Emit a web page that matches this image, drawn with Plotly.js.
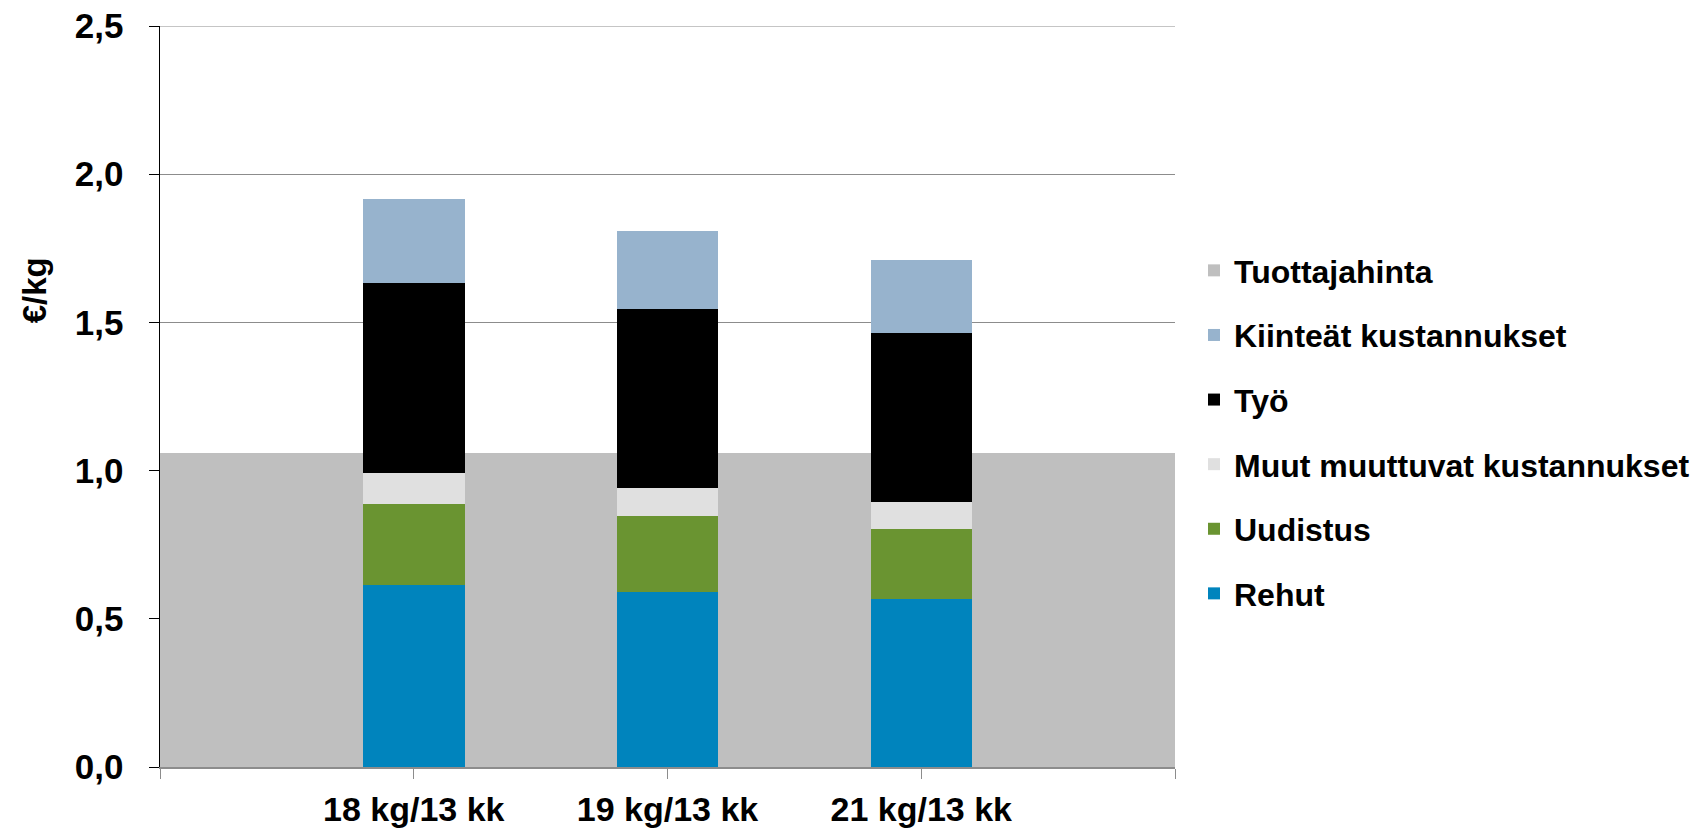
<!DOCTYPE html>
<html>
<head>
<meta charset="utf-8">
<script src="https://cdn.plot.ly/plotly-3.0.1.min.js"></script>
<style>
  html, body { margin: 0; padding: 0; background: #fff; }
  #chart { width: 1707px; height: 833px; }
</style>
</head>
<body>
<div id="chart"></div>
<script>
// categories and values (€/kg)
const categories = ["18 kg/13 kk", "19 kg/13 kk", "21 kg/13 kk"];
const rehut = [0.614, 0.592, 0.566];
const uudistus = [0.275, 0.254, 0.237];
const muut = [0.104, 0.095, 0.090];
const tyo = [0.639, 0.605, 0.571];
const kiinteat = [0.285, 0.261, 0.247];
const tuottajahinta = [1.058, 1.058, 1.058];

const yTicks = [0, 0.5, 1.0, 1.5, 2.0, 2.5];
const yMax = yTicks[yTicks.length - 1];

const idx = categories.map((c, i) => i);
const font = { family: "Liberation Sans, Arial, sans-serif", color: "#000", weight: "bold" };
const gridColor = "#8c8c8c";

function costBar(name, values, color, rank) {
  return {
    type: "bar",
    name: name,
    x: idx,
    y: values,
    xaxis: "x2",
    yaxis: "y2",
    width: 0.4,
    marker: { color: color, line: { width: 0 } },
    legendgroup: name,
    legendrank: rank,
    hoverinfo: "name+y"
  };
}

const data = [
  costBar("Rehut", rehut, "#0084bd", 6),
  costBar("Uudistus", uudistus, "#6a9431", 5),
  costBar("Muut muuttuvat kustannukset", muut, "#e0e0e0", 4),
  costBar("Työ", tyo, "#000000", 3),
  costBar("Kiinteät kustannukset", kiinteat, "#97b3cd", 2),
  // producer price drawn as a full-width band behind the cost bars
  {
    type: "bar",
    name: "Tuottajahinta",
    x: idx,
    y: tuottajahinta,
    xaxis: "x",
    yaxis: "y",
    width: 1,
    marker: { color: "#bfbfbf", line: { width: 0 } },
    legendgroup: "Tuottajahinta",
    legendrank: 1,
    hoverinfo: "name+y"
  }
];

// tick marks sit at the category centres and at both ends of the axis
const xTickVals = [-1].concat(idx, [categories.length]);
const xTickText = [""].concat(categories, [""]);

const layout = {
  width: 1707,
  height: 833,
  margin: { l: 160, r: 530, t: 26, b: 66 },
  paper_bgcolor: "#fff",
  plot_bgcolor: "#fff",
  separators: ", ",
  barmode: "stack",
  showlegend: true,
  xaxis: {
    range: [-0.5, categories.length - 0.5],
    visible: false,
    fixedrange: true
  },
  yaxis: {
    range: [0, yMax],
    tickvals: yTicks,
    tickformat: ".1f",
    showgrid: true,
    gridcolor: gridColor,
    gridwidth: 1,
    zeroline: false,
    showline: true,
    linecolor: "#000",
    linewidth: 1.5,
    ticks: "outside",
    ticklen: 10,
    tickcolor: "#000",
    ticklabelstandoff: 18,
    tickfont: Object.assign({ size: 35 }, font),
    fixedrange: true
  },
  xaxis2: {
    overlaying: "x",
    range: [-1, categories.length],
    tickvals: xTickVals,
    ticktext: xTickText,
    showgrid: false,
    zeroline: false,
    showline: true,
    linecolor: gridColor,
    linewidth: 1.5,
    ticks: "outside",
    ticklen: 10,
    tickcolor: gridColor,
    ticklabelstandoff: 2,
    tickfont: Object.assign({ size: 34 }, font),
    fixedrange: true
  },
  yaxis2: {
    overlaying: "y",
    range: [0, yMax],
    visible: false,
    fixedrange: true
  },
  // plotly drops the gridline sitting on the top edge, so draw it back
  shapes: [
    {
      type: "line",
      xref: "paper",
      yref: "y",
      x0: 0,
      x1: 1,
      y0: yMax,
      y1: yMax,
      line: { color: gridColor, width: 1 },
      layer: "below"
    }
  ],
  legend: {
    traceorder: "grouped",
    tracegroupgap: 20,
    x: 1.0187,
    xanchor: "left",
    y: 0.452,
    yanchor: "middle",
    bgcolor: "rgba(0,0,0,0)",
    font: Object.assign({ size: 32 }, font)
  },
  annotations: [
    {
      text: "€/kg",
      xref: "paper",
      yref: "paper",
      x: -0.1239,
      y: 0.6436,
      xanchor: "center",
      yanchor: "middle",
      textangle: -90,
      showarrow: false,
      font: Object.assign({ size: 33 }, font)
    }
  ]
};

Plotly.newPlot("chart", data, layout, { displayModeBar: false, staticPlot: true });
</script>
</body>
</html>
